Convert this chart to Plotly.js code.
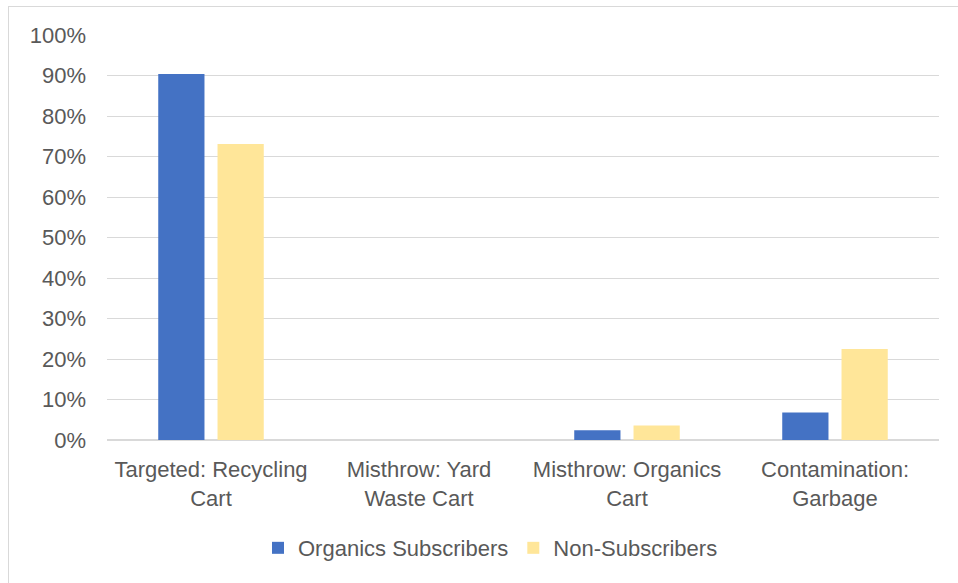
<!DOCTYPE html>
<html>
<head>
<meta charset="utf-8">
<script src="https://cdn.plot.ly/plotly-3.0.1.min.js"></script>
<style>
  html, body { margin: 0; padding: 0; background: #ffffff; }
  #wrap { position: relative; width: 958px; height: 583px; overflow: hidden; }
  #chart { position: absolute; left: 0; top: 0; width: 958px; height: 583px; }
  #frame { position: absolute; left: 8px; top: 6px; width: 960px; height: 590px;
           border-left: 1.5px solid #d9d9d9; border-top: 1.5px solid #d9d9d9; pointer-events: none; }
</style>
</head>
<body>
<div id="wrap">
  <div id="chart"></div>
  <div id="frame"></div>
</div>
<script>
const categories = [
  "Targeted: Recycling<br>Cart",
  "Misthrow: Yard<br>Waste Cart",
  "Misthrow: Organics<br>Cart",
  "Contamination:<br>Garbage"
];
const seriesNames = ["Organics Subscribers", "Non-Subscribers"];
const organicsSubscribers = [0.904, 0.0, 0.024, 0.068];
const nonSubscribers = [0.731, 0.0, 0.036, 0.225];
const yTickVals = [0, 0.1, 0.2, 0.3, 0.4, 0.5, 0.6, 0.7, 0.8, 0.9, 1.0];
const yTickText = ["0%", "10%", "20%", "30%", "40%", "50%", "60%", "70%", "80%", "90%", "100%"];

const fontFam = "'Liberation Sans', Arial, sans-serif";
const textColor = "#595959";

const traces = [
  {
    type: "bar", name: seriesNames[0], x: categories, y: organicsSubscribers,
    marker: { color: "#4472c4" }, hoverinfo: "skip"
  },
  {
    type: "bar", name: seriesNames[1], x: categories, y: nonSubscribers,
    marker: { color: "#ffe699" }, hoverinfo: "skip"
  }
];

const layout = {
  width: 958, height: 583,
  margin: { l: 107, r: 19, t: 35, b: 143 },
  paper_bgcolor: "#ffffff", plot_bgcolor: "#ffffff",
  font: { family: fontFam, size: 22, color: textColor },
  barmode: "group",
  bargap: 0.43,
  bargroupgap: 0.22,
  showlegend: true,
  legend: {
    orientation: "h", xref: "container", yref: "container",
    x: 0.512, xanchor: "center", y: 0.06, yanchor: "middle",
    font: { family: fontFam, size: 22, color: textColor },
    itemwidth: 30, traceorder: "normal"
  },
  xaxis: {
    type: "category", showgrid: false, zeroline: false, showline: false,
    ticks: "", tickfont: { family: fontFam, size: 22, color: textColor },
    ticklabelstandoff: 14
  },
  yaxis: {
    range: [0, 1], tickvals: yTickVals, ticktext: yTickText,
    showgrid: true, gridcolor: "#d9d9d9", gridwidth: 1,
    zeroline: true, zerolinecolor: "#d9d9d9", zerolinewidth: 2,
    showline: false, ticks: "",
    tickfont: { family: fontFam, size: 22, color: textColor },
    ticklabelstandoff: 20
  }
};

Plotly.newPlot("chart", traces, layout, { displayModeBar: false, staticPlot: true });
</script>
</body>
</html>
